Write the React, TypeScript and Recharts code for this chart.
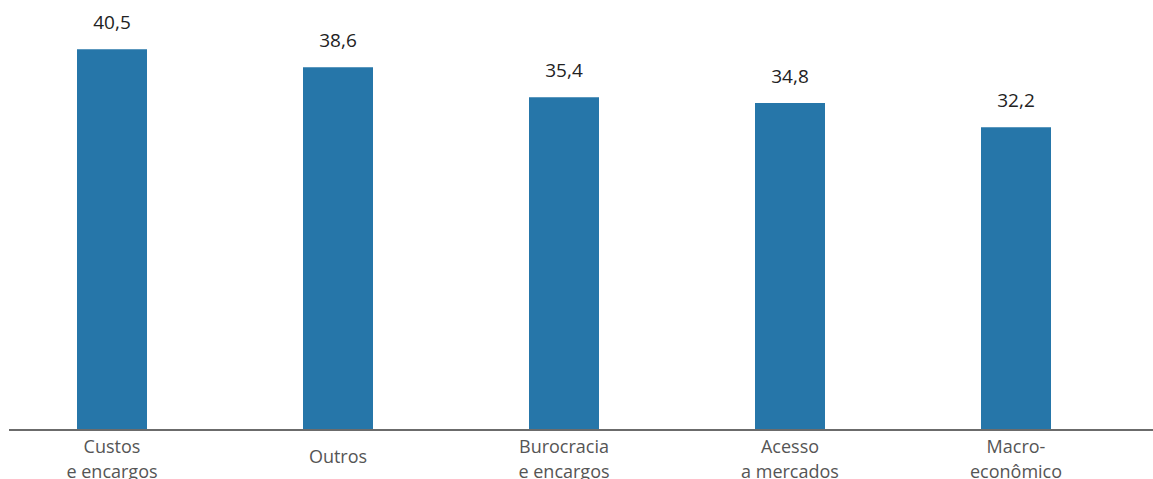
import { BarChart, Bar, XAxis, YAxis, LabelList } from "recharts";

const categories = [
  "Custos\ne encargos",
  "Outros",
  "Burocracia\ne encargos",
  "Acesso\na mercados",
  "Macro-\neconômico",
];
const values = [40.5, 38.6, 35.4, 34.8, 32.2];

const data = categories.map((name, i) => ({ name, value: values[i] }));

const FONT = "'Open Sans', 'Noto Sans', sans-serif";

function CategoryTick(props: any) {
  const { x, y, payload } = props;
  const lines: string[] = String(payload.value).split("\n");
  // two-line labels sit higher, single ones are centred between
  const first = lines.length > 1 ? 23 : 33;
  return (
    <text
      x={x}
      y={y}
      textAnchor="middle"
      fill="#555"
      fontSize={18}
      fontFamily={FONT}
    >
      {lines.map((line, i) => (
        <tspan key={i} x={x} dy={i === 0 ? first : 25}>
          {line}
        </tspan>
      ))}
    </text>
  );
}

const fmt = (v: any) => String(v).replace(".", ",");

export default function App() {
  return (
    <div style={{ position: "absolute", left: 0, top: 0, width: 1153, height: 479 }}>
      <BarChart
        width={1153}
        height={479}
        data={data}
        margin={{ top: 7, right: 24, bottom: 0, left: -1 }}
      >
        <XAxis
          dataKey="name"
          axisLine={false}
          tickLine={false}
          tickSize={0}
          tickMargin={0}
          height={49}
          interval={0}
          tick={<CategoryTick />}
        />
        <YAxis hide domain={[0, 45]} />
        <Bar dataKey="value" fill="#2676a9" barSize={70} isAnimationActive={false}>
          <LabelList
            dataKey="value"
            position="top"
            offset={20}
            formatter={fmt}
            fill="#222"
            fontSize={19}
            fontFamily={FONT}
          />
        </Bar>
      </BarChart>
      {/* baseline rule, runs past the plot to the right edge */}
      <div
        style={{
          position: "absolute",
          left: 9,
          top: 429,
          width: 1144,
          height: 2,
          background: "#6b6b6b",
        }}
      />
    </div>
  );
}
